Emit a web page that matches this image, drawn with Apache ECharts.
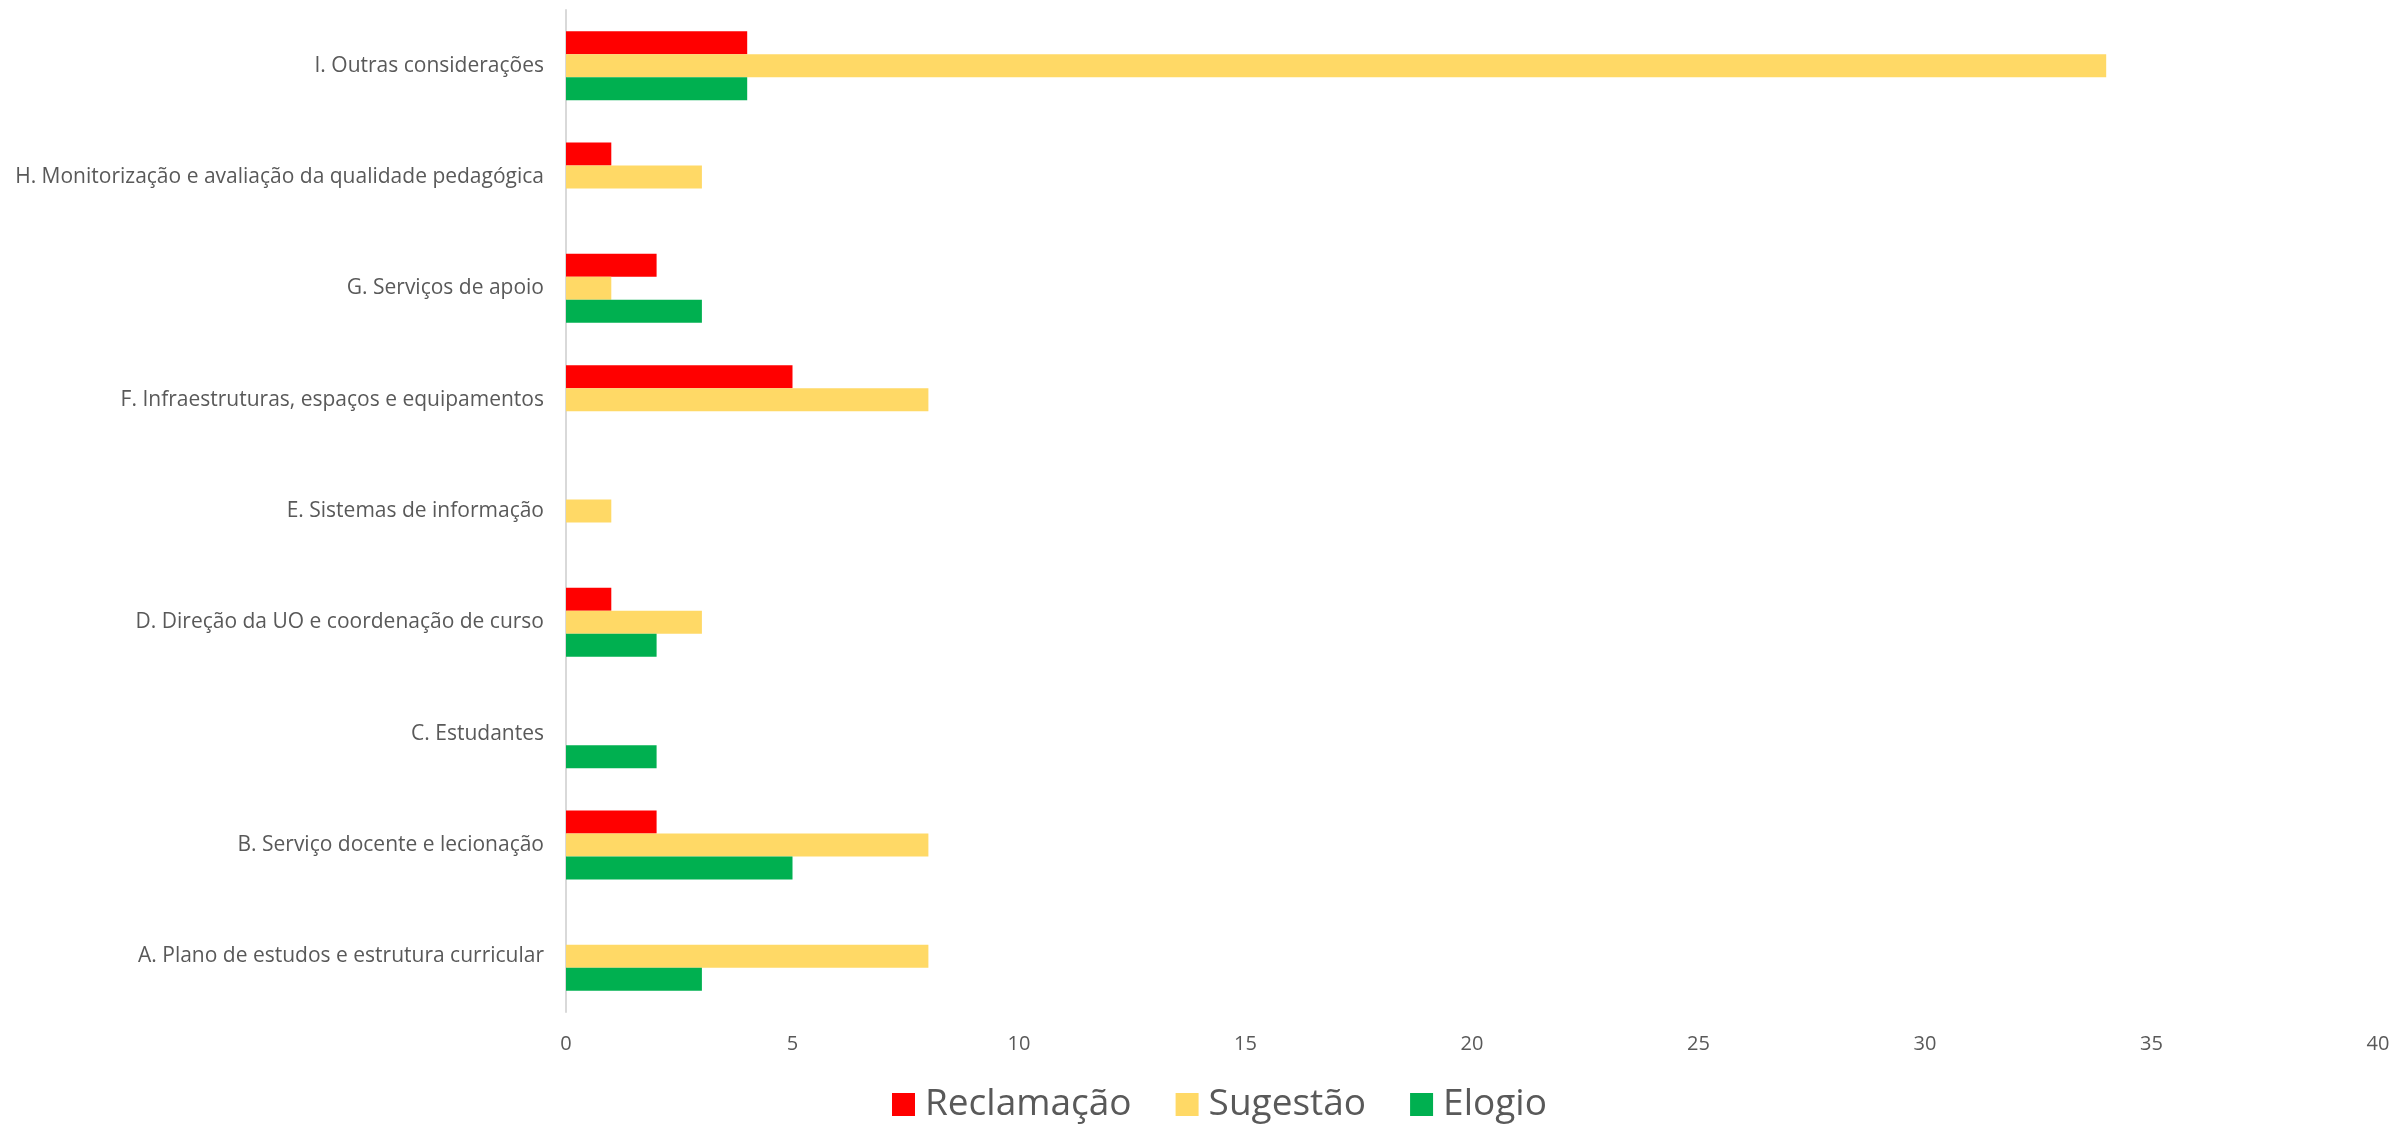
<!DOCTYPE html>
<html><head><meta charset="utf-8">
<script src="https://cdn.jsdelivr.net/npm/echarts@6/dist/echarts.min.js"></script>
<style>html,body{margin:0;padding:0;background:#fff}#c{width:2397px;height:1130px}</style>
</head><body><div id="c"></div>
<script>
const categories = [
  "A. Plano de estudos e estrutura curricular",
  "B. Serviço docente e lecionação",
  "C. Estudantes",
  "D. Direção da UO e coordenação de curso",
  "E. Sistemas de informação",
  "F. Infraestruturas, espaços e equipamentos",
  "G. Serviços de apoio",
  "H. Monitorização e avaliação da qualidade pedagógica",
  "I. Outras considerações"
];
const reclamacao = [0, 2, 0, 1, 0, 5, 2, 1, 4];
const sugestao   = [8, 8, 0, 3, 1, 8, 1, 3, 34];
const elogio     = [3, 5, 2, 2, 0, 0, 3, 0, 4];
const xTicks = [0, 5, 10, 15, 20, 25, 30, 35, 40];

const font = "'Open Sans', sans-serif";
const chart = echarts.init(document.getElementById('c'));
chart.setOption({
  animation: false,
  grid: { left: 566, right: 19, top: 10, bottom: 118, containLabel: false },
  legend: {
    data: ['Reclamação', 'Sugestão', 'Elogio'],
    bottom: 2,
    left: 887,
    icon: 'rect',
    itemWidth: 23, itemHeight: 23, itemGap: 44,
    textStyle: { fontSize: 37, color: '#595959', fontFamily: font, padding: [0,0,0,5] }
  },
  xAxis: {
    type: 'value', min: xTicks[0], max: xTicks[xTicks.length-1], interval: 5,
    axisLine: { show: false }, axisTick: { show: false },
    splitLine: { show: false },
    axisLabel: { fontSize: 20, color: '#595959', fontFamily: font, margin: 22 }
  },
  yAxis: {
    type: 'category', data: categories,
    axisLine: { show: true, lineStyle: { color: '#D9D9D9', width: 2 } },
    axisTick: { show: false },
    axisLabel: { fontSize: 21, color: '#595959', fontFamily: font, margin: 22 }
  },
  series: [
    { name: 'Reclamação', type: 'bar', data: reclamacao, itemStyle: { color: '#FF0000' }, barGap: '0%', barCategoryGap: '38%' },
    { name: 'Sugestão', type: 'bar', data: sugestao, itemStyle: { color: '#FFD966' }, barGap: '0%', barCategoryGap: '38%' },
    { name: 'Elogio', type: 'bar', data: elogio, itemStyle: { color: '#00B050' }, barGap: '0%', barCategoryGap: '38%' }
  ]
});
</script></body></html>
